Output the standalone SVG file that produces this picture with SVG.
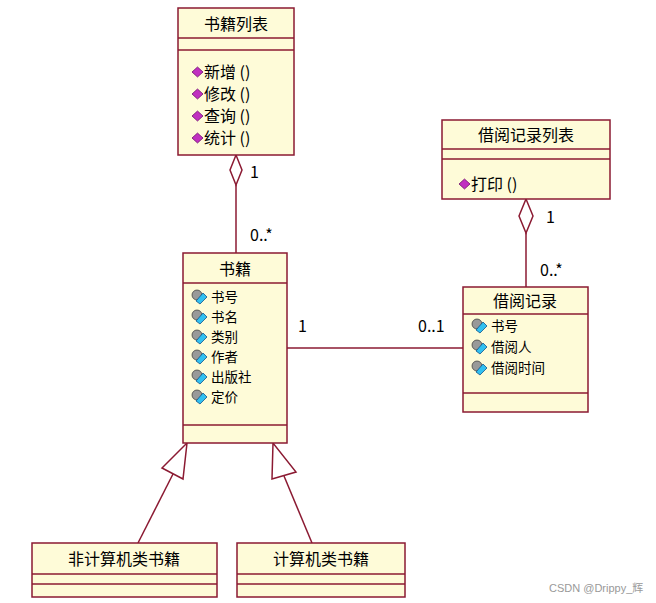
<svg xmlns="http://www.w3.org/2000/svg" width="656" height="603" viewBox="0 0 656 603">
<style>
.box{fill:#fefbd8;stroke:#8b1a32;stroke-width:1.5}
.ln{stroke:#8b1a32;stroke-width:1.5;fill:none}
.t{font-family:"Noto Sans CJK SC","Liberation Sans",sans-serif;font-size:16px;fill:#000}
.s{font-size:13.5px}
.c{text-anchor:middle}
.m{fill:#c030c0;stroke:#600060;stroke-width:0.7}
.a{fill:#30c0f0;stroke:#004080;stroke-width:0.7}
.lk{fill:#999;stroke:#333;stroke-width:0.7}
</style>
<defs>
<g id="op"><path class="m" d="M0,0 L5.5,-5 L11,0 L5.5,5Z"/></g>
<g id="at"><circle class="lk" cx="5" cy="-2" r="5"/><path class="a" d="M4,4 L11,-4 L15,0 L8,7Z"/></g>
</defs>
<rect width="656" height="603" fill="#fff"/>
<g id="connectors">
<path class="ln" d="M236,155 L242,170 L236,185 L230,170Z" fill="#fff"/>
<line class="ln" x1="236" y1="185" x2="236" y2="253"/>
<path class="ln" d="M526,199 L533,216 L526,233 L519,216Z" fill="#fff"/>
<line class="ln" x1="526" y1="233" x2="526" y2="287"/>
<line class="ln" x1="287" y1="348" x2="463" y2="348"/>
<path class="ln" d="M187,443 L162,468 L183,479Z" fill="#fff"/>
<line class="ln" x1="173" y1="474" x2="138" y2="543"/>
<path class="ln" d="M273,443 L272,479 L296,472Z" fill="#fff"/>
<line class="ln" x1="284" y1="476" x2="312" y2="543"/>
<text class="t" x="250" y="178">1</text>
<text class="t" x="250" y="241">0..*</text>
<text class="t" x="546" y="223">1</text>
<text class="t" x="540" y="276">0..*</text>
<text class="t" x="298" y="332">1</text>
<text class="t" x="418" y="332">0..1</text>
</g>
<g id="shujiliebiao">
<rect class="box" x="178" y="8" width="116" height="147"/>
<line class="ln" x1="178" y1="38" x2="294" y2="38"/>
<line class="ln" x1="178" y1="50" x2="294" y2="50"/>
<text class="t c" x="236" y="30">书籍列表</text>
<use href="#op" x="192" y="72"/><text class="t" x="204" y="78">新增 ()</text>
<use href="#op" x="192" y="94"/><text class="t" x="204" y="100">修改 ()</text>
<use href="#op" x="192" y="116"/><text class="t" x="204" y="122">查询 ()</text>
<use href="#op" x="192" y="138"/><text class="t" x="204" y="144">统计 ()</text>
</g>
<g id="jieyuejiluliebiao">
<rect class="box" x="442" y="120" width="168" height="79"/>
<line class="ln" x1="442" y1="149" x2="610" y2="149"/>
<line class="ln" x1="442" y1="159" x2="610" y2="159"/>
<text class="t c" x="526" y="141">借阅记录列表</text>
<use href="#op" x="459" y="184"/><text class="t" x="471" y="190">打印 ()</text>
</g>
<g id="shuji">
<rect class="box" x="183" y="253" width="104" height="190"/>
<line class="ln" x1="183" y1="283" x2="287" y2="283"/>
<line class="ln" x1="183" y1="425" x2="287" y2="425"/>
<text class="t c" x="235" y="275">书籍</text>
<use href="#at" x="192" y="297"/><text class="t s" x="211" y="302">书号</text>
<use href="#at" x="192" y="317"/><text class="t s" x="211" y="322">书名</text>
<use href="#at" x="192" y="337"/><text class="t s" x="211" y="342">类别</text>
<use href="#at" x="192" y="357"/><text class="t s" x="211" y="362">作者</text>
<use href="#at" x="192" y="377"/><text class="t s" x="211" y="382">出版社</text>
<use href="#at" x="192" y="397"/><text class="t s" x="211" y="402">定价</text>
</g>
<g id="jieyuejilu">
<rect class="box" x="463" y="287" width="125" height="125"/>
<line class="ln" x1="463" y1="314" x2="588" y2="314"/>
<line class="ln" x1="463" y1="393" x2="588" y2="393"/>
<text class="t c" x="525" y="307">借阅记录</text>
<use href="#at" x="472" y="326"/><text class="t s" x="491" y="331">书号</text>
<use href="#at" x="472" y="347"/><text class="t s" x="491" y="352">借阅人</text>
<use href="#at" x="472" y="368"/><text class="t s" x="491" y="373">借阅时间</text>
</g>
<g id="feijisuanji">
<rect class="box" x="32" y="543" width="185" height="54"/>
<line class="ln" x1="32" y1="574" x2="217" y2="574"/>
<line class="ln" x1="32" y1="584" x2="217" y2="584"/>
<text class="t c" x="124" y="565">非计算机类书籍</text>
</g>
<g id="jisuanji">
<rect class="box" x="237" y="543" width="168" height="54"/>
<line class="ln" x1="237" y1="574" x2="405" y2="574"/>
<line class="ln" x1="237" y1="584" x2="405" y2="584"/>
<text class="t c" x="321" y="565">计算机类书籍</text>
</g>
<text x="549" y="592" font-family="Liberation Sans,Noto Sans CJK SC,sans-serif" font-size="11" fill="#999">CSDN @Drippy_辉</text>
</svg>
